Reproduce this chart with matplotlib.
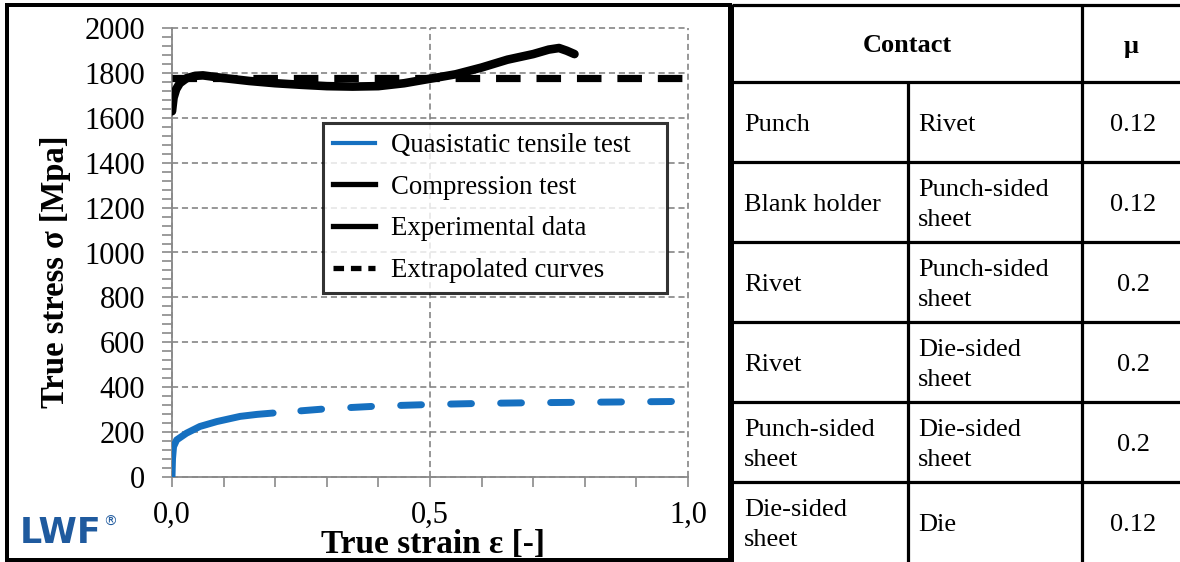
import matplotlib
matplotlib.use('Agg')
import matplotlib.pyplot as plt
from matplotlib.lines import Line2D
from matplotlib.patches import Rectangle
from matplotlib.ticker import MultipleLocator, FixedLocator, FixedFormatter

# ---------------- data ----------------
tensile_strain = [0.0, 0.001, 0.003, 0.009, 0.028, 0.054, 0.087, 0.132, 0.165, 0.196]
tensile_stress = [0, 80, 134, 164, 194, 224, 246, 269, 278, 284]
tensile_ext_strain = [0.196, 0.3, 0.4, 0.5, 0.6, 0.7, 0.8, 0.9, 1.0]
tensile_ext_stress = [284, 303, 315, 322, 327, 330, 332, 334, 336]

comp_strain = [0.0, 0.003, 0.008, 0.015, 0.028, 0.045, 0.06, 0.1, 0.15, 0.2, 0.25,
               0.3, 0.35, 0.4, 0.45, 0.5, 0.55, 0.6, 0.65, 0.7, 0.73, 0.75, 0.765, 0.78]
comp_stress = [1630, 1690, 1728, 1755, 1777, 1788, 1790, 1778, 1765, 1755, 1748,
               1742, 1740, 1742, 1755, 1775, 1795, 1825, 1860, 1885, 1905, 1912, 1900, 1885]
comp_ext_strain = [0.0, 1.0]
comp_ext_stress = [1780, 1780]

y_ticks = list(range(0, 2001, 200))
x_ticks = [0.0, 0.5, 1.0]
x_tick_labels = ['0,0', '0,5', '1,0']
legend_labels = ['Quasistatic tensile test', 'Compression test',
                 'Experimental data', 'Extrapolated curves']

contact_a = ['Punch', 'Blank holder', 'Rivet', 'Rivet', 'Punch-sided\nsheet', 'Die-sided\nsheet']
contact_b = ['Rivet', 'Punch-sided\nsheet', 'Punch-sided\nsheet', 'Die-sided\nsheet',
             'Die-sided\nsheet', 'Die']
mu_values = ['0.12', '0.12', '0.2', '0.2', '0.2', '0.12']

# ---------------- style ----------------
W, H, DPI = 1180, 562, 100
SERIF = 'Liberation Serif'
BLUE = '#1670c0'
GRAYAX = '#8a8a8a'
PX = 72.0 / DPI  # points per pixel

fig = plt.figure(figsize=(W / DPI, H / DPI), dpi=DPI)
fig.patch.set_facecolor('white')

# overlay in pixel coordinates for panel frame and table
ov = fig.add_axes([0, 0, 1, 1], zorder=0)
ov.set_xlim(0, W)
ov.set_ylim(H, 0)
ov.axis('off')

# left panel frame
ov.add_patch(Rectangle((7, 5), 723, 555, fill=False, edgecolor='black', lw=4 * PX))

# table grid
tx0, tx1, tx2, tx3 = 732, 908, 1082, 1182
row_y = [5, 82, 162, 242, 322, 402, 482, 562]
ov.plot([tx0, tx0], [5, 562], color='black', lw=4 * PX, solid_capstyle='butt')
for y in row_y[:-1]:
    ov.plot([tx0, tx3], [y, y], color='black', lw=3.2 * PX, solid_capstyle='butt')
ov.plot([tx1, tx1], [82, 562], color='black', lw=3.2 * PX, solid_capstyle='butt')
ov.plot([tx2, tx2], [5, 562], color='black', lw=3.2 * PX, solid_capstyle='butt')

ov.text((tx0 + tx2) / 2, 46, 'Contact', fontsize=19, fontweight='bold', family=SERIF,
        ha='center', va='center')
ov.text(1131, 47, 'μ', fontsize=19, fontweight='bold', family=SERIF, ha='center', va='center')
for i in range(len(mu_values)):
    yc = (row_y[i + 1] + row_y[i + 2]) / 2 + 3
    ov.text(tx0 + 12, yc, contact_a[i], fontsize=19, family=SERIF, ha='left', va='center',
            linespacing=1.45)
    ov.text(tx1 + 10, yc, contact_b[i], fontsize=19, family=SERIF, ha='left', va='center',
            linespacing=1.45)
    ov.text(1133, yc, mu_values[i], fontsize=19, family=SERIF, ha='center', va='center')

# LWF logo
ov.text(20, 533, 'LWF', fontsize=25, fontweight='bold', family='DejaVu Sans',
        color='#1f5a9e', ha='left', va='center')
ov.text(103, 522, '®', fontsize=10, family='DejaVu Sans', color='#1f5a9e',
        ha='left', va='center')

# ---------------- main plot ----------------
ax_l, ax_r, ax_t, ax_b = 172, 688, 28.3, 476.7
ax = fig.add_axes([ax_l / W, 1 - ax_b / H, (ax_r - ax_l) / W, (ax_b - ax_t) / H], zorder=2)
ax.patch.set_alpha(0)
ax.set_xlim(0, 1.0)
ax.set_ylim(0, 2000)

ax.plot(comp_ext_strain, comp_ext_stress, color='black', lw=5.2,
        linestyle=(0, (3.4, 2.2)), dash_capstyle='butt', zorder=3)
ax.plot(comp_strain, comp_stress, color='black', lw=6.2, solid_capstyle='round',
        solid_joinstyle='round', zorder=4)
ax.plot(tensile_ext_strain, tensile_ext_stress, color=BLUE, lw=5,
        linestyle=(-4.0, (3.0, 4.2)), dash_capstyle='round', zorder=3)
ax.plot(tensile_strain, tensile_stress, color=BLUE, lw=5, solid_capstyle='round', zorder=4)

for s in ['top', 'right']:
    ax.spines[s].set_visible(False)
for s in ['left', 'bottom']:
    ax.spines[s].set_color(GRAYAX)
    ax.spines[s].set_linewidth(1.3)

ax.yaxis.set_major_locator(FixedLocator(y_ticks))
ax.yaxis.set_minor_locator(MultipleLocator(40))
ax.xaxis.set_major_locator(FixedLocator(x_ticks))
ax.xaxis.set_major_formatter(FixedFormatter(x_tick_labels))
ax.xaxis.set_minor_locator(MultipleLocator(0.1))

ax.tick_params(axis='both', which='both', direction='out', length=10 * PX,
               width=1.2, color=GRAYAX, labelsize=22)
ax.tick_params(axis='y', which='major', pad=12)
ax.tick_params(axis='x', which='major', pad=10)
for lab in ax.get_xticklabels() + ax.get_yticklabels():
    lab.set_family(SERIF)

ax.grid(True, which='major', color='#7a7a7a', linestyle=(0, (4, 2.5)), lw=1.1)
for gl in ax.get_xgridlines() + ax.get_ygridlines():
    gl.set_clip_on(False)

ax.set_xlabel('True strain ε [-]', fontsize=24, fontweight='bold', family=SERIF, va='center')
ax.xaxis.set_label_coords(0.505, -0.152)
ax.set_ylabel('True stress σ [Mpa]', fontsize=23.5, fontweight='bold', family=SERIF, va='center')
ax.yaxis.set_label_coords(-0.225, 0.4565)

# legend
handles = [
    Line2D([], [], color=BLUE, lw=3),
    Line2D([], [], color='black', lw=3.8),
    Line2D([], [], color='black', lw=3.8),
    Line2D([], [], color='black', lw=3.8, linestyle=(0, (2.0, 1.3))),
]
lx0, ly0, lx1, ly1 = 323, 123, 667, 288
leg = ax.legend(handles, legend_labels, loc='upper left',
                bbox_to_anchor=(lx0 / W, 1 - ly1 / H, (lx1 - lx0) / W, (ly1 - ly0) / H),
                bbox_transform=fig.transFigure, mode='expand', borderaxespad=0,
                prop={'family': SERIF, 'size': 19.3}, frameon=True, fancybox=False,
                handlelength=1.55, handletextpad=0.6, labelspacing=0.62, borderpad=0.38)
leg.get_frame().set_edgecolor('black')
leg.get_frame().set_linewidth(2.2)
leg.set_zorder(5)

fig.savefig('out.png', dpi=DPI, facecolor='white')
